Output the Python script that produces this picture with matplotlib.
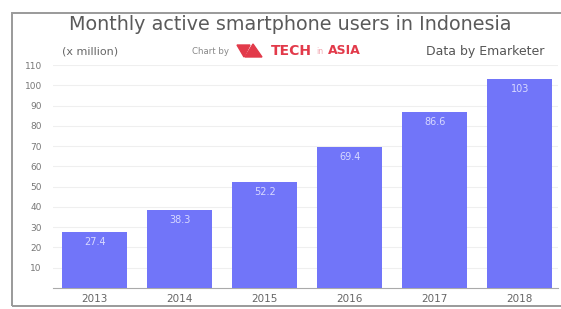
import matplotlib
matplotlib.use("Agg")
import matplotlib.pyplot as plt
from matplotlib.patches import Rectangle, Polygon

years = ["2013", "2014", "2015", "2016", "2017", "2018"]
users = [27.4, 38.3, 52.2, 69.4, 86.6, 103]
labels = ["27.4", "38.3", "52.2", "69.4", "86.6", "103"]
yticks = [10, 20, 30, 40, 50, 60, 70, 80, 90, 100, 110]

W, H = 561, 309
fig = plt.figure(figsize=(W / 100, H / 100), dpi=100)
fig.patch.set_facecolor("white")
plt.rcParams["font.family"] = ["DejaVu Sans"]

# outer frame
fig.patches.append(Rectangle((12 / W, 1 - 306 / H), 1.2, (306 - 13) / H,
                             transform=fig.transFigure, fill=False,
                             edgecolor="#9a9a9a", linewidth=1.4))

ax = fig.add_axes([53 / W, 1 - 288 / H, (558 - 53) / W, (288 - 65) / H])
x = list(range(len(years)))
ax.bar(x, users, width=0.76, color="#7175f9", zorder=3)
ax.set_xlim(-0.49, 5.45)
ax.set_ylim(0, 110)
ax.set_yticks(yticks)
ax.set_yticklabels([str(t) for t in yticks])
ax.set_xticks(x)
ax.set_xticklabels(years)
ax.tick_params(axis="y", length=0, pad=8, labelsize=6.5, labelcolor="#777777")
ax.tick_params(axis="x", length=0, pad=4, labelsize=7.5, labelcolor="#666666")
ax.grid(axis="y", color="#efefef", linewidth=0.8, zorder=0)
for s in ["top", "right", "left"]:
    ax.spines[s].set_visible(False)
ax.spines["bottom"].set_color("#aaaaaa")
ax.spines["bottom"].set_linewidth(0.8)

for xi, v, lab in zip(x, users, labels):
    ax.text(xi, v - 2.2, lab, ha="center", va="top", color="#d8d9ff",
            fontsize=7, zorder=4)

fig.text(290 / W, 1 - 24 / H, "Monthly active smartphone users in Indonesia",
         ha="center", va="center", fontsize=13.8, color="#5a5a5a")
fig.text(90 / W, 1 - 51 / H, "(x million)", ha="center", va="center",
         fontsize=8, color="#666666")
fig.text(485 / W, 1 - 51 / H, "Data by Emarketer", ha="center", va="center",
         fontsize=9, color="#555555")
fig.text(211 / W, 1 - 51 / H, "Chart by", ha="center", va="center",
         fontsize=6.2, color="#888888")
# logo
red = "#e23a4a"
fig.patches.append(Polygon([(237 / W, 1 - 45 / H), (250 / W, 1 - 45 / H),
                            (244 / W, 1 - 57 / H)], closed=True,
                           transform=fig.transFigure, color=red))
fig.patches.append(Polygon([(245 / W, 1 - 57 / H), (253 / W, 1 - 44 / H),
                            (262 / W, 1 - 57 / H)], closed=True,
                           transform=fig.transFigure, color=red))
fig.text(291 / W, 1 - 51 / H, "TECH", ha="center", va="center",
         fontsize=10, fontweight="bold", color=red)
fig.text(320 / W, 1 - 51 / H, "in", ha="center", va="center",
         fontsize=5.5, color="#f2a9b2")
fig.text(344 / W, 1 - 51 / H, "ASIA", ha="center", va="center",
         fontsize=9, fontweight="bold", color=red)

fig.savefig("out.png", dpi=100)
